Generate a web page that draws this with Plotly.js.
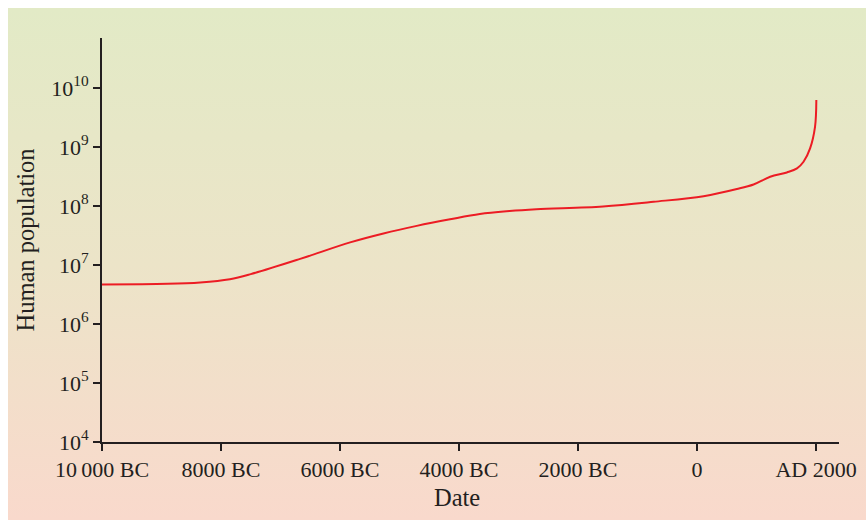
<!DOCTYPE html>
<html>
<head>
<meta charset="utf-8">
<script src="https://cdn.plot.ly/plotly-3.0.1.min.js"></script>
<style>
  html, body { margin: 0; padding: 0; background: #ffffff; }
  #bg { position: absolute; left: 8px; top: 8px; width: 858px; height: 512px;
        background: linear-gradient(to bottom, #e2eac6 0%, #ece4c8 50%, #f9d9cc 100%); }
  #chart { position: absolute; left: 0; top: 0; width: 866px; height: 520px; }
</style>
</head>
<body>
<div id="bg"></div>
<div id="chart"></div>
<script>
// Year (negative = BC)
const years = [-10000, -8900, -8350, -7850, -7500, -6670, -5830, -5270, -4710, -4150,
               -3650, -3150, -2700, -1580, -730, 110, 670, 950, 1230, 1510, 1680, 1790, 1900,
               1983, 2005];
// Estimated human population
const population = [4.68e6, 4.79e6, 5.06e6, 5.75e6, 7.0e6, 1.27e7, 2.42e7, 3.43e7, 4.61e7,
                    5.96e7, 7.33e7, 8.22e7, 8.81e7, 9.84e7, 1.18e8, 1.47e8, 1.94e8, 2.32e8, 3.13e8,
                    3.71e8, 4.34e8, 5.62e8, 9.49e8, 2.2e9, 6.27e9];

const xTickVals = [-10000, -8000, -6000, -4000, -2000, 0, 2000];
const xTickText = ['10\u2009000 BC', '8000 BC', '6000 BC', '4000 BC', '2000 BC', '0', 'AD 2000'];
const yTickVals = [1e4, 1e5, 1e6, 1e7, 1e8, 1e9, 1e10];
const yTickText = ['10<sup>4</sup>', '10<sup>5</sup>', '10<sup>6</sup>', '10<sup>7</sup>',
                   '10<sup>8</sup>', '10<sup>9</sup>', '10<sup>10</sup>'];

const ink = '#231f20';
const family = '"Liberation Serif", "DejaVu Serif", serif';
const tickFont = { family: family, size: 22, color: ink };
const titleFont = { family: family, size: 24.5, color: ink };

const trace = {
  x: years, y: population, type: 'scatter', mode: 'lines',
  line: { color: '#ec1c24', width: 2, shape: 'spline', smoothing: 1 },
  hoverinfo: 'skip'
};

const layout = {
  width: 866, height: 520,
  margin: { l: 102, r: 27, t: 38, b: 78 },
  paper_bgcolor: 'rgba(0,0,0,0)', plot_bgcolor: 'rgba(0,0,0,0)',
  font: tickFont,
  showlegend: false,
  xaxis: {
    range: [-10000, 2386],
    tickvals: xTickVals, ticktext: xTickText,
    ticks: 'outside', ticklen: 7, tickwidth: 1.3, tickcolor: ink,
    showline: true, linecolor: ink, linewidth: 2,
    showgrid: false, zeroline: false,
    tickfont: tickFont
  },
  yaxis: {
    type: 'log', range: [4, 10.848],
    tickvals: yTickVals, ticktext: yTickText,
    ticks: 'outside', ticklen: 7, tickwidth: 1.3, tickcolor: ink,
    showline: true, linecolor: ink, linewidth: 2,
    showgrid: false, zeroline: false,
    tickfont: tickFont,
    title: { text: 'Human population', font: titleFont, standoff: 10 }
  },
  annotations: [{
    text: 'Date', xref: 'paper', yref: 'paper',
    x: 0.4817, y: -0.137, xanchor: 'center', yanchor: 'middle',
    showarrow: false, font: titleFont
  }]
};

Plotly.newPlot('chart', [trace], layout, { displayModeBar: false, staticPlot: true });
</script>
</body>
</html>
